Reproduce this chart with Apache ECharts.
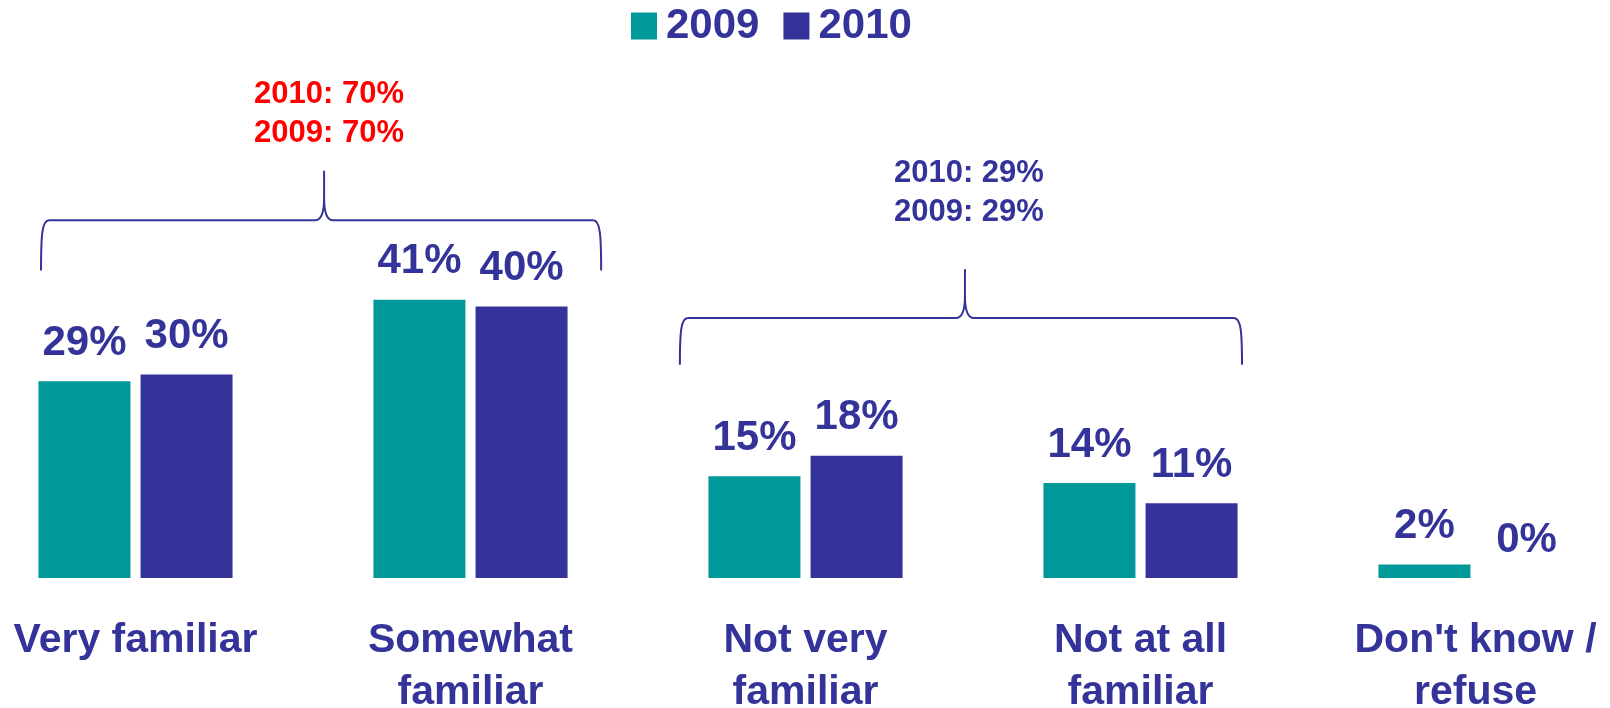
<!DOCTYPE html>
<html>
<head>
<meta charset="utf-8">
<script src="https://cdn.jsdelivr.net/npm/echarts@6/dist/echarts.min.js"></script>
<style>
html,body{margin:0;padding:0;background:#fff;overflow:hidden;width:1610px;height:708px;position:relative;}
#chart{position:absolute;left:-32px;top:0;width:1675px;height:708px;}
</style>
</head>
<body>
<div id="chart"></div>
<script>
const categories = ['Very familiar', 'Somewhat\nfamiliar', 'Not very\nfamiliar', 'Not at all\nfamiliar', "Don't know /\nrefuse"];
const seriesNames = ['2009', '2010'];
const values2009 = [29, 41, 15, 14, 2];
const values2010 = [30, 40, 18, 11, 0];
const familiarNote = '2010: 70%\n2009: 70%';
const notFamiliarNote = '2010: 29%\n2009: 29%';

const TEAL = '#009999';
const NAVY = '#333399';
const FONT = '"Liberation Sans", Arial, Helvetica, sans-serif';

const chart = echarts.init(document.getElementById('chart'), null, {renderer: 'canvas'});

const labelCfg = {
  show: true,
  position: 'top',
  distance: 17,
  formatter: '{c}%',
  color: NAVY,
  fontFamily: FONT,
  fontWeight: 'bold',
  fontSize: 42
};

chart.setOption({
  animation: false,
  backgroundColor: '#ffffff',
  legend: {
    data: seriesNames,
    left: 663,
    top: 5,
    padding: 0,
    itemWidth: 26,
    itemHeight: 27,
    itemGap: 24,
    icon: 'rect',
    textStyle: {
      color: NAVY,
      fontFamily: FONT,
      fontWeight: 'bold',
      fontSize: 42,
      lineHeight: 40,
      padding: [0, 0, 0, 4]
    }
  },
  grid: {left: 0, right: 0, top: 35, bottom: 130, containLabel: false, outerBoundsMode: 'none'},
  xAxis: {
    type: 'category',
    data: categories,
    axisLine: {show: false},
    axisTick: {show: false},
    splitLine: {show: false},
    axisLabel: {
      interval: 0,
      margin: 37,
      color: NAVY,
      fontFamily: FONT,
      fontWeight: 'bold',
      fontSize: 41,
      lineHeight: 52,
      hideOverlap: false
    }
  },
  yAxis: {
    type: 'value',
    min: 0,
    max: 80,
    show: false,
    splitLine: {show: false}
  },
  series: [
    {
      name: seriesNames[0],
      type: 'bar',
      data: values2009,
      barWidth: 92,
      barGap: '11%',
      itemStyle: {color: TEAL},
      label: labelCfg
    },
    {
      name: seriesNames[1],
      type: 'bar',
      data: values2010,
      barWidth: 92,
      barGap: '11%',
      itemStyle: {color: NAVY},
      label: labelCfg
    }
  ]
});

// Braces drawn from axis coordinates
function px(cat, val) {
  return chart.convertToPixel({gridIndex: 0}, [cat, val]);
}
const band = px(1, 0)[0] - px(0, 0)[0];
const braceStyle = {stroke: NAVY, lineWidth: 2, fill: null};

function brace(L, R, T, hY, bY, tipTop) {
  const els = [];
  function line(x1, y1, x2, y2) {
    els.push({type: 'line', shape: {x1: x1, y1: y1, x2: x2, y2: y2}, style: braceStyle});
  }
  function curve(x1, y1, c1x, c1y, c2x, c2y, x2, y2) {
    els.push({type: 'bezierCurve', shape: {x1: x1, y1: y1, cpx1: c1x, cpy1: c1y, cpx2: c2x, cpy2: c2y, x2: x2, y2: y2}, style: braceStyle});
  }
  curve(L, bY, L, hY + 14, L + 1, hY, L + 8, hY);
  line(L + 8, hY, T - 9, hY);
  curve(T - 9, hY, T - 3, hY, T, hY - 8, T, hY - 22);
  line(T, hY - 22, T, tipTop);
  curve(T, hY - 22, T, hY - 8, T + 3, hY, T + 9, hY);
  line(T + 9, hY, R - 8, hY);
  curve(R - 8, hY, R - 1, hY, R, hY + 14, R, bY);
  return els;
}

// brace 1: over "Very familiar" + "Somewhat familiar"
const b1L = px(0, 0)[0] - 0.282 * band;
const b1R = px(1, 0)[0] + 0.39 * band;
const b1T = (b1L + b1R) / 2 + 3;
const b1H = px(0, 52.7)[1], b1B = px(0, 45.3)[1], b1Top = px(0, 60)[1];

// brace 2: over "Not very familiar" + "Not at all familiar"
const b2L = px(2, 0)[0] - 0.375 * band;
const b2R = px(3, 0)[0] + 0.303 * band;
const b2T = (b2L + b2R) / 2 + 4;
const b2H = px(0, 38.3)[1], b2B = px(0, 31.4)[1], b2Top = px(0, 45.5)[1];

const graphics = []
  .concat(brace(b1L, b1R, b1T, b1H, b1B, b1Top))
  .concat(brace(b2L, b2R, b2T, b2H, b2B, b2Top));

graphics.push({
  type: 'text',
  x: b1T + 5,
  y: b1Top - 57,
  style: {
    text: familiarNote,
    fill: '#FF0000',
    font: 'bold 31px ' + FONT,
    lineHeight: 39,
    align: 'center',
    verticalAlign: 'middle'
  }
});
graphics.push({
  type: 'text',
  x: b2T + 4,
  y: b2Top - 76,
  style: {
    text: notFamiliarNote,
    fill: NAVY,
    font: 'bold 31px ' + FONT,
    lineHeight: 39,
    align: 'center',
    verticalAlign: 'middle'
  }
});

chart.setOption({graphic: graphics});
</script>
</body>
</html>
